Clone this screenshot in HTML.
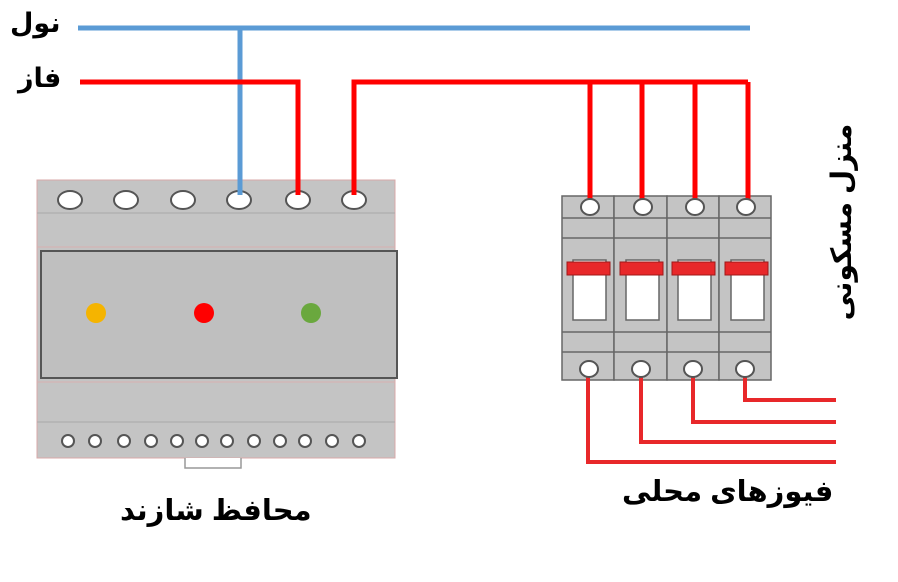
<!DOCTYPE html>
<html><head><meta charset="utf-8"><style>
body{margin:0;background:#fff;width:898px;height:582px;overflow:hidden;position:relative}
.t{position:absolute;font-family:"Liberation Sans","DejaVu Sans",sans-serif;font-weight:bold;color:#000;white-space:nowrap;direction:rtl}
</style></head><body>
<svg width="898" height="582" style="position:absolute;left:0;top:0">
<rect x="37" y="180" width="358" height="278" fill="#c4c4c4" stroke="#d8a8a8" stroke-width="1"/>
<line x1="37" y1="213" x2="395" y2="213" stroke="#a9a9a9" stroke-width="1"/>
<line x1="37" y1="247" x2="395" y2="247" stroke="#d8b0b0" stroke-width="1"/>
<rect x="41" y="251" width="356" height="127" fill="#bfbfbf" stroke="#555" stroke-width="2"/>
<line x1="37" y1="382" x2="395" y2="382" stroke="#d8b0b0" stroke-width="1"/>
<line x1="37" y1="422" x2="395" y2="422" stroke="#a9a9a9" stroke-width="1"/>
<path d="M185 458 V468 H241 V458" fill="#fff" stroke="#999" stroke-width="1.5"/>
<g fill="#fff" stroke="#555" stroke-width="2">
<ellipse cx="70" cy="200" rx="12" ry="9"/><ellipse cx="126" cy="200" rx="12" ry="9"/>
<ellipse cx="183" cy="200" rx="12" ry="9"/><ellipse cx="239" cy="200" rx="12" ry="9"/>
<ellipse cx="298" cy="200" rx="12" ry="9"/><ellipse cx="354" cy="200" rx="12" ry="9"/>
<circle cx="68" cy="441" r="6"/><circle cx="95" cy="441" r="6"/><circle cx="124" cy="441" r="6"/>
<circle cx="151" cy="441" r="6"/><circle cx="177" cy="441" r="6"/><circle cx="202" cy="441" r="6"/>
<circle cx="227" cy="441" r="6"/><circle cx="254" cy="441" r="6"/><circle cx="280" cy="441" r="6"/>
<circle cx="305" cy="441" r="6"/><circle cx="332" cy="441" r="6"/><circle cx="359" cy="441" r="6"/>
</g>
<circle cx="96" cy="313" r="10" fill="#f5b400"/>
<circle cx="204" cy="313" r="10" fill="#f00"/>
<circle cx="311" cy="313" r="10" fill="#6aa83e"/>
<g stroke="#666" stroke-width="1.5">
<rect x="562" y="196" width="52" height="184" fill="#c4c4c4"/>
<rect x="614" y="196" width="53" height="184" fill="#c4c4c4"/>
<rect x="667" y="196" width="52" height="184" fill="#c4c4c4"/>
<rect x="719" y="196" width="52" height="184" fill="#c4c4c4"/>
<line x1="562" y1="218" x2="771" y2="218"/><line x1="562" y1="238" x2="771" y2="238"/>
<line x1="562" y1="332" x2="771" y2="332"/><line x1="562" y1="352" x2="771" y2="352"/>
</g>
<g fill="#fff" stroke="#666" stroke-width="1.5">
<rect x="573" y="260" width="33" height="60"/><rect x="626" y="260" width="33" height="60"/>
<rect x="678" y="260" width="33" height="60"/><rect x="731" y="260" width="33" height="60"/>
</g>
<g fill="#e8282a" stroke="#a01818" stroke-width="1">
<rect x="567" y="262" width="43" height="13"/><rect x="620" y="262" width="43" height="13"/>
<rect x="672" y="262" width="43" height="13"/><rect x="725" y="262" width="43" height="13"/>
</g>
<g fill="none" stroke-width="5">
<path d="M78 28 H750" stroke="#5b9bd5"/>
<path d="M240 28 V195" stroke="#5b9bd5"/>
<path d="M80 82 H298 V195" stroke="#f00"/>
<path d="M354 195 V82 H748" stroke="#f00"/>
<path d="M590 82 V203 M642 82 V203 M695 82 V203 M748 82 V203" stroke="#f00"/>
</g>
<g fill="none" stroke="#e8282a" stroke-width="4">
<path d="M588 372 V462 H836"/><path d="M641 372 V442 H836"/>
<path d="M693 372 V422 H836"/><path d="M745 372 V400 H836"/>
</g>
<g fill="#fff" stroke="#555" stroke-width="2">
<ellipse cx="590" cy="207" rx="9" ry="8"/><ellipse cx="643" cy="207" rx="9" ry="8"/>
<ellipse cx="695" cy="207" rx="9" ry="8"/><ellipse cx="746" cy="207" rx="9" ry="8"/>
<ellipse cx="589" cy="369" rx="9" ry="8"/><ellipse cx="641" cy="369" rx="9" ry="8"/>
<ellipse cx="693" cy="369" rx="9" ry="8"/><ellipse cx="745" cy="369" rx="9" ry="8"/>
</g>
</svg>
<div class="t" style="left:10px;top:8px;font-size:27px">نول</div>
<div class="t" style="left:18px;top:63px;font-size:27px">فاز</div>
<div class="t" style="left:120px;top:493px;font-size:29px">محافظ شازند</div>
<div class="t" style="left:622px;top:474px;font-size:29px">فیوزهای محلی</div>
<div class="t" style="left:742px;top:205px;width:200px;height:34px;text-align:center;font-size:28px;transform:rotate(-90deg);transform-origin:center">منزل مسکونی</div>
</body></html>
